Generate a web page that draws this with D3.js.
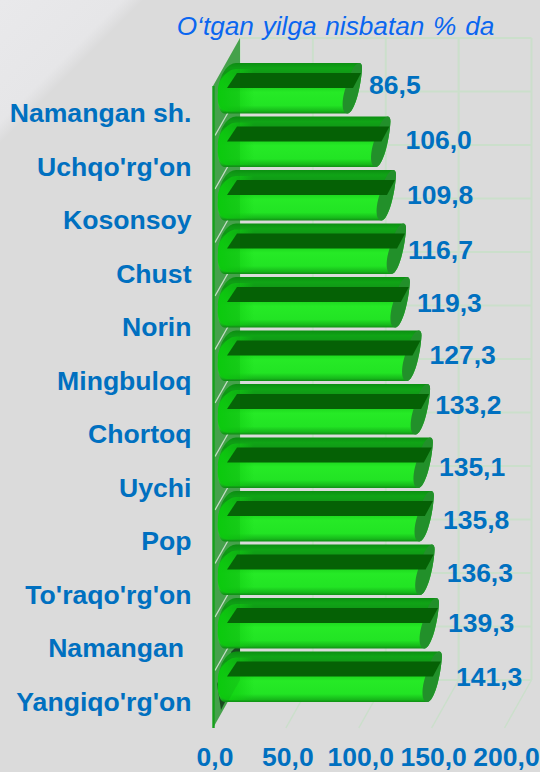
<!DOCTYPE html>
<html><head><meta charset="utf-8">
<script src="https://cdn.jsdelivr.net/npm/d3@7"></script>
<style>html,body{margin:0;padding:0;background:#dcdcdc}svg{display:block}text{font-family:"Liberation Sans",Arial,sans-serif}</style>
</head><body><svg id="c" width="540" height="772"></svg>
<script>
const categories=["Namangan sh.","Uchqo'rg'on","Kosonsoy","Chust","Norin","Mingbuloq","Chortoq","Uychi","Pop","To'raqo'rg'on","Namangan ","Yangiqo'rg'on"];
const values=[86.5,106.0,109.8,116.7,119.3,127.3,133.2,135.1,135.8,136.3,139.3,141.3];
const xTicks=[0,50,100,150,200];
const titleText="O‘tgan yilga nisbatan % da";

const W=540,H=772;
const depthX=27,depthY=48;
const fmt=d=>d.toFixed(1).replace(".",",");
const x=d3.scaleLinear().domain([0,200]).range([213,504.5]);
const y=d3.scaleBand().domain(categories).range([86,728]);
const bw=y.bandwidth();
const svg=d3.select("#c");
const defs=svg.append("defs");

// page background
svg.append("rect").attr("width",W).attr("height",H).attr("fill","#dbdbdb");
defs.append("linearGradient").attr("id","corner").attr("gradientUnits","userSpaceOnUse")
  .attr("x1",0).attr("y1",0).attr("x2",72).attr("y2",72)
  .call(g=>{g.append("stop").attr("offset",0).attr("stop-color","#e9e9eb");
            g.append("stop").attr("offset",.85).attr("stop-color","#e6e6e8");
            g.append("stop").attr("offset",1).attr("stop-color","#dbdbdb");});
svg.append("path").attr("d","M0 0H144L0 144Z").attr("fill","url(#corner)");

function vgrad(id,stops){
  const g=defs.append("linearGradient").attr("id",id).attr("x1",0).attr("y1",0).attr("x2",0).attr("y2",1);
  stops.forEach(s=>g.append("stop").attr("offset",s[0]).attr("stop-color",s[1]));
}
vgrad("body",[[0,"#0c8f12"],[.1,"#10a416"],[.2,"#109a16"],[.5,"#1fdc20"],[.58,"#26ea26"],[.84,"#22e424"],[.95,"#16b81a"],[1,"#0f8f14"]]);
const lg=defs.append("linearGradient").attr("id","left").attr("x1",0).attr("y1",0).attr("x2",1).attr("y2",0);
lg.append("stop").attr("offset",0).attr("stop-color","#0ad80c").attr("stop-opacity",1);
lg.append("stop").attr("offset",.55).attr("stop-color","#0fd010").attr("stop-opacity",.6);
lg.append("stop").attr("offset",1).attr("stop-color","#0fd010").attr("stop-opacity",0);

// back wall grid + floor
const gridCol="#cbdfcb";
const grid=svg.append("g").attr("stroke",gridCol).attr("stroke-width",2).attr("fill","none");
xTicks.forEach(t=>{
  grid.append("line").attr("x1",x(t)+depthX).attr("x2",x(t)+depthX).attr("y1",86-depthY).attr("y2",728-depthY);
  if(t>0)grid.append("line").attr("x1",x(t)).attr("x2",x(t)+depthX).attr("y1",728).attr("y2",728-depthY).attr("stroke-width",1.5);
});
const rows=categories.concat(["__end"]);
rows.forEach((c,i)=>{
  const yy=86+i*bw-depthY;
  grid.append("line").attr("x1",x(0)+depthX).attr("x2",x(200)+depthX).attr("y1",yy).attr("y2",yy);
});

// side wall
const wall=svg.append("g");
wall.append("path").attr("d",`M213 86L240 38V680L213 728Z`).attr("fill","#4fa854");
rows.forEach((c,i)=>{
  if(i===0||i===12)return;
  const yy=86+i*bw;
  wall.append("line").attr("x1",x(0)+2).attr("x2",x(0)+depthX).attr("y1",yy-4).attr("y2",yy-depthY).attr("stroke","#e4efe4").attr("stroke-width",1.3);
});

// dark shadow behind the last bar
wall.append("path").attr("d","M217 684L220 678L225 702L221 710Z").attr("fill","#12301a").attr("fill-opacity",.85);
wall.append("path").attr("d","M231 652L236 647H240V660L233 659Z").attr("fill","#12301a").attr("fill-opacity",.85);

// bars
const barH=50.5;
const nearT=.31, farT=.85;
const bars=svg.append("g").selectAll("g").data(categories).join("g");
bars.each(function(c,i){
  const g=d3.select(this), v=values[i];
  const top=y(c)-23, bot=top+barH;
  const xN=x(v)+nearT*depthX, xF=x(v)+farT*depthX;
  const lN=x(0)+15, lF=x(0)+21;
  const mid=(top+bot)/2;
  g.append("path").attr("d",
    `M${lF+2} ${top}L${xF-3} ${top}Q${xF} ${top} ${xF} ${top+5}`+
    `C${xF-1} ${top+24} ${xN+7} ${bot} ${xN} ${bot}`+
    `L${lN-3} ${bot}C${lN-9} ${bot} ${lN-11} ${mid+14} ${lN-10} ${mid+4}C${lN-9} ${mid-14} ${lF-6} ${top} ${lF+2} ${top}Z`)
   .attr("fill","url(#body)");
  g.append("path").attr("d",
    `M${lF+2} ${top+6}C${lF-6} ${top+6} ${lN-11} ${mid-8} ${lN-10} ${mid+4}C${lN-11} ${mid+14} ${lN-9} ${bot-3} ${lN-1} ${bot-2}L${lN+26} ${bot-2}L${lN+26} ${top+6}Z`)
   .attr("fill","url(#left)");
  g.append("path").attr("d",
    `M${xF-3} ${top}Q${xF} ${top} ${xF} ${top+5}C${xF-1} ${top+24} ${xN+7} ${bot} ${xN} ${bot}C${xN-6} ${bot} ${xN-6} ${mid+12} ${xN-2} ${mid}C${xN+2} ${mid-12} ${xF-9} ${top+1} ${xF-3} ${top}Z`)
   .attr("fill","#22902a");
  g.append("path").attr("d",
    `M${x(0)+24} ${top+10}L${xF-1} ${top+10}L${xF-9} ${top+25}L${x(0)+14} ${top+25}Z`)
   .attr("fill","#056105");
});

// translucent overlay of the side wall on the bars
svg.append("path").attr("d",`M213 86L240 38V680L213 728Z`).attr("fill","#0f7a14").attr("fill-opacity",.14);
svg.append("line").attr("x1",213.5).attr("x2",213.5).attr("y1",86).attr("y2",728).attr("stroke","#14a01a").attr("stroke-width",2.4);

// title
svg.append("text").attr("x",335.5).attr("y",35).attr("text-anchor","middle")
 .attr("font-size",26.2).attr("word-spacing",1.5).attr("font-style","italic").attr("fill","#0a66f0").text(titleText);

// category labels
svg.append("g").selectAll("text").data(categories).join("text")
 .attr("x",191.5).attr("y",(d,i)=>122+i*y.step())
 .attr("text-anchor","end").style("white-space","pre")
 .attr("font-size",26.6).attr("font-weight","bold").attr("fill","#0070c0").text(d=>d);

// value labels (hand placed in the source, so small per-label nudges)
const nudgeX=[-2,6,2,-7,-2,-1,-4,-3,0,3,0,5];
const labelY=[94,149,204,259,312,364,414,476,529,582,632,686];
svg.append("g").selectAll("text").data(values).join("text")
 .attr("x",(d,i)=>x(d)+32+nudgeX[i]).attr("y",(d,i)=>labelY[i])
 .attr("font-size",26.5).attr("font-weight","bold").attr("fill","#0070c0").text(fmt);

// x axis
const ax=svg.append("g").attr("transform","translate(1.5,739.5)").call(d3.axisBottom(x).tickValues(xTicks).tickFormat(fmt).tickSize(0));
ax.select(".domain").remove();
ax.selectAll("text").attr("font-size",26.5).attr("font-weight","bold").attr("fill","#0070c0").attr("font-family",'"Liberation Sans",Arial,sans-serif').attr("dy","0.88em");
</script></body></html>
